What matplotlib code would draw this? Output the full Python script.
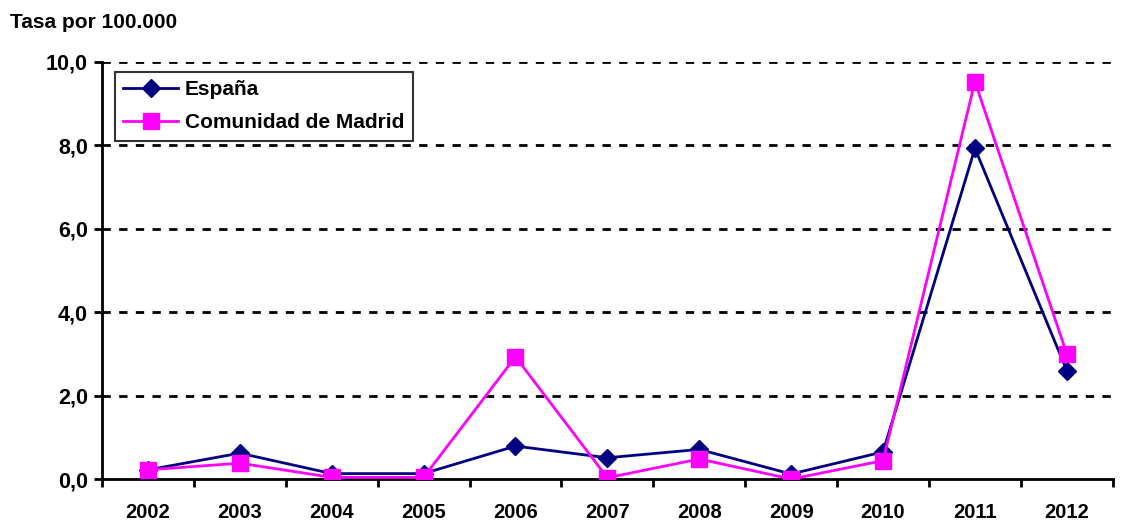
import matplotlib.pyplot as plt
import numpy as np

years = ['2002', '2003', '2004', '2005', '2006', '2007', '2008', '2009', '2010', '2011', '2012']
espana = [0.22, 0.62, 0.13, 0.13, 0.79, 0.51, 0.71, 0.12, 0.65, 7.93, 2.60]
madrid = [0.22, 0.38, 0.04, 0.04, 2.93, 0.03, 0.48, 0.00, 0.44, 9.53, 3.00]

plt.rcParams['font.family'] = ['Liberation Sans', 'DejaVu Sans']
plt.rcParams['font.weight'] = 'bold'

fig = plt.figure(figsize=(11.24, 5.2), dpi=100)
ax = fig.add_axes([0.0907, 0.0788, 0.8993, 0.8020])

x = np.arange(len(years))
ax.plot(x, espana, color='#000080', lw=2, marker='D', markersize=9,
        label='España', zorder=3)
ax.plot(x, madrid, color='#FF00FF', lw=2, marker='s', markersize=11,
        label='Comunidad de Madrid', zorder=4)

ax.set_xlim(-0.5, len(years) - 0.5)
ax.set_ylim(0, 10)
ax.set_yticks(np.arange(0, 10.1, 2))
ax.set_yticklabels([f'{v:.1f}'.replace('.', ',') for v in np.arange(0, 10.1, 2)])
ax.set_xticks(x)
ax.set_xticklabels(years)
ax.set_xticks(np.arange(-0.5, len(years), 1), minor=True)
ax.tick_params(axis='x', which='major', length=0, pad=17, labelsize=14.5)
ax.tick_params(axis='x', which='minor', length=6, width=2, direction='out')
ax.tick_params(axis='y', length=6, width=2, direction='out', pad=4, labelsize=15.5)

for v in np.arange(2, 10.1, 2):
    ax.axhline(v, color='black', lw=2, ls=(0, (3, 3)), zorder=1)

for s in ['top', 'right']:
    ax.spines[s].set_visible(False)
for s in ['left', 'bottom']:
    ax.spines[s].set_linewidth(2)

leg = ax.legend(loc='upper left', bbox_to_anchor=(0.013, 0.976), fontsize=15,
                frameon=True, fancybox=False, edgecolor='black',
                handlelength=2.6, borderpad=0.4, labelspacing=0.68, handletextpad=0.35,
                borderaxespad=0)
leg.get_frame().set_linewidth(1.5)

fig.text(0.009, 0.956, 'Tasa por 100.000', fontsize=15, fontweight='bold', va='center')

fig.savefig('out.png', dpi=100)
